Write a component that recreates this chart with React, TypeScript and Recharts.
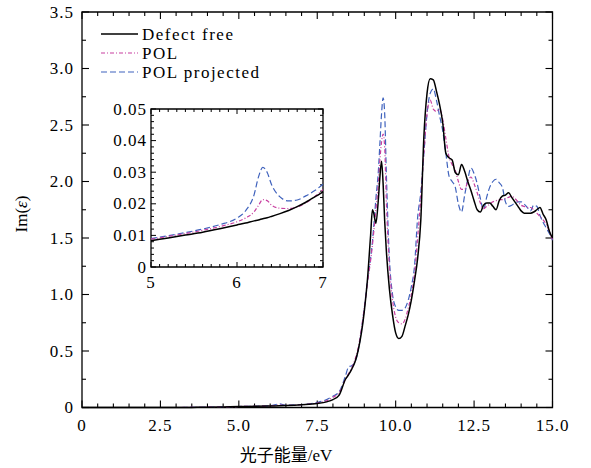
import { LineChart, Line, XAxis, YAxis, ReferenceArea, ReferenceLine, Legend } from "recharts";

// photon energy grid (eV) for the main panel
const MAIN_X = [
  0, 1, 2, 3, 3.5, 4, 4.5, 5, 5.5, 6,
  6.3, 6.5, 7, 7.5, 7.8, 8.0, 8.2, 8.4, 8.5, 8.6,
  8.7, 8.8, 9.0, 9.1, 9.2, 9.26, 9.3, 9.37, 9.45, 9.5,
  9.55, 9.6, 9.65, 9.7, 9.8, 9.9, 10.0, 10.1, 10.2, 10.3,
  10.4, 10.5, 10.6, 10.7, 10.8, 10.9, 11.0, 11.1, 11.2, 11.3,
  11.4, 11.5, 11.6, 11.7, 11.8, 11.9, 12.0, 12.1, 12.2, 12.3,
  12.4, 12.5, 12.6, 12.7, 12.8, 12.9, 13.0, 13.1, 13.2, 13.3,
  13.4, 13.5, 13.6, 13.7, 13.8, 13.9, 14.0, 14.1, 14.2, 14.3,
  14.4, 14.5, 14.6, 14.7, 14.8, 14.9, 15.0,
];

const DEFECT_FREE = [
  0, 0, 0, 0, 0.001, 0.002, 0.004, 0.008, 0.01, 0.013,
  0.015, 0.017, 0.024, 0.035, 0.05, 0.07, 0.11, 0.25, 0.29, 0.34,
  0.4, 0.5, 0.85, 1.13, 1.52, 1.75, 1.72, 1.63, 1.85, 2.05,
  2.18, 1.98, 1.65, 1.4, 1.05, 0.82, 0.66, 0.61, 0.63, 0.72,
  0.82, 0.95, 1.12, 1.32, 1.65, 2.4, 2.78, 2.91, 2.9, 2.8,
  2.68, 2.52, 2.25, 2.21, 2.19, 2.08, 2.06, 2.15, 2.09, 2.0,
  1.92, 1.83, 1.75, 1.73, 1.79, 1.81, 1.81, 1.78, 1.75, 1.83,
  1.87, 1.88, 1.9, 1.86, 1.82, 1.78, 1.74, 1.72, 1.72, 1.72,
  1.73, 1.75, 1.77, 1.71, 1.66, 1.56, 1.5,
];

const POL = [
  0, 0, 0, 0, 0.001, 0.003, 0.005, 0.009, 0.0105, 0.0145,
  0.021, 0.0185, 0.0245, 0.04, 0.06, 0.09, 0.13, 0.25, 0.3, 0.35,
  0.42, 0.52, 0.88, 1.1, 1.3, 1.44, 1.55, 1.75, 2.0, 2.2,
  2.35, 2.42, 2.3, 1.85, 1.25, 0.95, 0.8, 0.75, 0.74, 0.78,
  0.88, 1.0, 1.18, 1.5, 1.85, 2.25, 2.6, 2.72, 2.64, 2.62,
  2.64, 2.55, 2.38, 2.22, 2.15, 2.1, 2.0, 1.93, 1.93, 2.0,
  2.04, 1.98, 1.9, 1.81, 1.76, 1.78, 1.8, 1.82, 1.83, 1.84,
  1.84, 1.85, 1.86, 1.87, 1.85, 1.82, 1.79, 1.78, 1.77, 1.77,
  1.75, 1.72, 1.69, 1.66, 1.62, 1.56, 1.48,
];

const POL_PROJECTED = [
  0, 0, 0, 0, 0.001, 0.003, 0.005, 0.009, 0.011, 0.0155,
  0.0315, 0.022, 0.026, 0.045, 0.07, 0.1, 0.14, 0.28, 0.36, 0.37,
  0.4, 0.5, 0.88, 1.12, 1.32, 1.47, 1.6, 1.85, 2.1, 2.35,
  2.6, 2.74, 2.6, 2.1, 1.32, 1.0, 0.89, 0.86, 0.86, 0.88,
  0.95, 1.07, 1.25, 1.68, 1.9, 2.25, 2.6, 2.78, 2.82, 2.72,
  2.58, 2.45, 2.25, 2.05, 2.0, 1.95, 1.8, 1.73, 1.88, 2.02,
  2.12, 2.07, 1.98, 1.85, 1.75, 1.86, 1.95, 2.0, 2.02, 1.99,
  1.95, 1.82, 1.78, 1.79, 1.81, 1.82, 1.82, 1.8, 1.77, 1.74,
  1.79, 1.78, 1.7, 1.64, 1.59, 1.54, 1.48,
];

// inset: 5 - 7 eV zoom
const INSET_X = [5, 5.2, 5.4, 5.6, 5.8, 6.0, 6.1, 6.2, 6.25, 6.3, 6.35, 6.4, 6.5, 6.6, 6.7, 6.8, 6.9, 7.0];
const INSET_DEFECT_FREE = [
  0.0083, 0.0092, 0.0101, 0.011, 0.0121, 0.0133, 0.0139, 0.0146, 0.0149,
  0.0153, 0.0156, 0.016, 0.0169, 0.0179, 0.0191, 0.0205, 0.0221, 0.0238,
];
const INSET_POL = [
  0.0088, 0.0097, 0.0106, 0.0116, 0.0128, 0.0143, 0.0155, 0.0175, 0.0195,
  0.0213, 0.021, 0.0196, 0.0186, 0.0185, 0.019, 0.0203, 0.0222, 0.0245,
];
const INSET_POL_PROJECTED = [
  0.009, 0.0099, 0.0109, 0.012, 0.0134, 0.0155, 0.0178, 0.023, 0.0285,
  0.0315, 0.03, 0.0262, 0.0222, 0.0209, 0.0212, 0.0225, 0.0241, 0.0262,
];

const X_MAJOR = [0, 2.5, 5, 7.5, 10, 12.5, 15];
const X_LABELS = ["0", "2.5", "5.0", "7.5", "10.0", "12.5", "15.0"];
const Y_MAJOR = [0, 0.5, 1, 1.5, 2, 2.5, 3, 3.5];
const Y_LABELS = ["0", "0.5", "1.0", "1.5", "2.0", "2.5", "3.0", "3.5"];
const INSET_X_MAJOR = [5, 6, 7];
const INSET_X_LABELS = ["5", "6", "7"];
const INSET_Y_MAJOR = [0, 0.01, 0.02, 0.03, 0.04, 0.05];
const INSET_Y_LABELS = ["0", "0.01", "0.02", "0.03", "0.04", "0.05"];

const SERIES = [
  { key: "defect", name: "Defect free", color: "#000000", dash: undefined, width: 1.5 },
  { key: "pol", name: "POL", color: "#c83fa0", dash: "4 2 1 2", width: 1.2 },
  { key: "proj", name: "POL projected", color: "#3f62bd", dash: "6 3", width: 1.2 },
];

const W = 591;
const H = 468;
const MAIN = { left: 82, top: 12, right: 552.5, bottom: 407.5, xd: [0, 15], yd: [0, 3.5] };
const INSET = { left: 151, top: 109, right: 323, bottom: 267, xd: [5, 7], yd: [0, 0.05] };
const SERIF = '"Liberation Serif", "Noto Sans CJK SC", serif';

const mainData = MAIN_X.map((x, i) => ({
  x,
  defect: DEFECT_FREE[i],
  pol: POL[i],
  proj: POL_PROJECTED[i],
}));

const insetData = INSET_X.map((x, i) => ({
  x,
  defect: INSET_DEFECT_FREE[i],
  pol: INSET_POL[i],
  proj: INSET_POL_PROJECTED[i],
}));

const steps = (from: number, to: number, step: number) =>
  Array.from({ length: Math.round((to - from) / step) + 1 }, (_, i) => +(from + i * step).toFixed(4));

const findMajor = (major: number[], v: number) => major.findIndex((m) => Math.abs(m - v) < 1e-6);

// inward tick marks on all four sides, as reference-line segments (length given in px)
function tickSegments(box: any, xTicks: number[], xMajor: number[], yTicks: number[], yMajor: number[], big: number, small: number) {
  const [x0, x1] = box.xd;
  const [y0, y1] = box.yd;
  const xPerPx = (x1 - x0) / (box.right - box.left);
  const yPerPx = (y1 - y0) / (box.bottom - box.top);
  const segs: any[] = [];
  xTicks.forEach((v) => {
    const d = (findMajor(xMajor, v) >= 0 ? big : small) * yPerPx;
    segs.push([{ x: v, y: y0 }, { x: v, y: y0 + d }]);
    segs.push([{ x: v, y: y1 }, { x: v, y: y1 - d }]);
  });
  yTicks.forEach((v) => {
    const d = (findMajor(yMajor, v) >= 0 ? big : small) * xPerPx;
    segs.push([{ x: x0, y: v }, { x: x0 + d, y: v }]);
    segs.push([{ x: x1, y: v }, { x: x1 - d, y: v }]);
  });
  return segs;
}

const MAIN_XT = steps(0, 15, 0.5);
const MAIN_YT = steps(0, 3.5, 0.25);
const INSET_XT = steps(5, 7, 0.1);
const INSET_YT = steps(0, 0.05, 0.002);

const mainSegs = tickSegments(MAIN, MAIN_XT, X_MAJOR, MAIN_YT, Y_MAJOR, 7, 4);
const insetSegs = tickSegments(INSET, INSET_XT, INSET_X_MAJOR, INSET_YT, INSET_Y_MAJOR, 5, 3);

function renderXLabel(p: any, box: any, major: number[], labels: string[], gap: number) {
  const i = findMajor(major, p.payload.value);
  if (i < 0) return <g />;
  return (
    <text x={p.x} y={box.bottom + gap} textAnchor="middle" dominantBaseline="central"
      fontFamily={SERIF} fontSize={17} letterSpacing={1} fill="#000">
      {labels[i]}
    </text>
  );
}

function renderYLabel(p: any, box: any, major: number[], labels: string[], gap: number) {
  const i = findMajor(major, p.payload.value);
  if (i < 0) return <g />;
  return (
    <text x={box.left - gap} y={p.y} textAnchor="end" dominantBaseline="central"
      fontFamily={SERIF} fontSize={17} letterSpacing={1} fill="#000">
      {labels[i]}
    </text>
  );
}

function LegendBox() {
  return (
    <svg width={170} height={64}>
      {SERIES.map((s, i) => (
        <g key={s.key}>
          <line x1={3} x2={40} y1={12 + i * 19} y2={12 + i * 19} stroke={s.color}
            strokeWidth={s.width} strokeDasharray={s.dash} />
          <text x={44} y={12 + i * 19} dominantBaseline="central" fontFamily={SERIF}
            fontSize={17} letterSpacing={1.5} fill="#000">
            {s.name}
          </text>
        </g>
      ))}
    </svg>
  );
}

export default function App() {
  return (
    <div style={{ position: "absolute", left: 0, top: 0, width: W, height: H, background: "#fff" }}>
      <div style={{ position: "absolute", left: 0, top: 0 }}>
        <LineChart width={W} height={H} data={mainData}
          margin={{ top: MAIN.top, right: W - MAIN.right, bottom: H - MAIN.bottom - 1, left: MAIN.left - 1 }}>
          <XAxis dataKey="x" type="number" domain={[0, 15]} ticks={MAIN_XT} interval={0}
            height={1} tickSize={0} tickMargin={0} axisLine={false}
            tick={(p: any) => renderXLabel(p, MAIN, X_MAJOR, X_LABELS, 18)}
            label={{
              content: () => (
                <text x={286} y={455} textAnchor="middle" dominantBaseline="central"
                  fontFamily={SERIF} fontSize={17} fill="#000">
                  光子能量/eV
                </text>
              ),
            }} />
          <YAxis type="number" domain={[0, 3.5]} ticks={MAIN_YT} interval={0}
            width={1} tickSize={0} tickMargin={0} axisLine={false}
            tick={(p: any) => renderYLabel(p, MAIN, Y_MAJOR, Y_LABELS, 8)}
            label={{
              content: () => (
                <text x={21} y={214} transform="rotate(-90 21 214)" textAnchor="middle"
                  dominantBaseline="central" fontFamily={SERIF} fontSize={17} fill="#000">
                  Im(<tspan fontStyle="italic">ε</tspan>)
                </text>
              ),
            }} />
          <ReferenceArea x1={0} x2={15} y1={0} y2={3.5} fill="none" stroke="#000" strokeWidth={1.3} />
          {mainSegs.map((seg, i) => (
            <ReferenceLine key={"m" + i} segment={seg} stroke="#000" strokeWidth={1.1} ifOverflow="visible" />
          ))}
          {[...SERIES].reverse().map((s) => (
            <Line key={s.key} type="monotone" dataKey={s.key} name={s.name} stroke={s.color}
              strokeWidth={s.width} strokeDasharray={s.dash} dot={false} isAnimationActive={false} />
          ))}
          <Legend layout="vertical" align="center" verticalAlign="middle"
            wrapperStyle={{ left: 98, top: 22, width: 170, height: 64 }}
            content={() => <LegendBox />} />
        </LineChart>
      </div>
      <div style={{ position: "absolute", left: 0, top: 0 }}>
        <LineChart width={W} height={H} data={insetData}
          margin={{ top: INSET.top, right: W - INSET.right, bottom: H - INSET.bottom - 1, left: INSET.left - 1 }}>
          <XAxis dataKey="x" type="number" domain={[5, 7]} ticks={INSET_XT} interval={0}
            height={1} tickSize={0} tickMargin={0} axisLine={false}
            tick={(p: any) => renderXLabel(p, INSET, INSET_X_MAJOR, INSET_X_LABELS, 15)} />
          <YAxis type="number" domain={[0, 0.05]} ticks={INSET_YT} interval={0}
            width={1} tickSize={0} tickMargin={0} axisLine={false}
            tick={(p: any) => renderYLabel(p, INSET, INSET_Y_MAJOR, INSET_Y_LABELS, 4)} />
          <ReferenceArea x1={5} x2={7} y1={0} y2={0.05} fill="none" stroke="#000" strokeWidth={1.3} />
          {insetSegs.map((seg, i) => (
            <ReferenceLine key={"i" + i} segment={seg} stroke="#000" strokeWidth={1} ifOverflow="visible" />
          ))}
          {[...SERIES].reverse().map((s) => (
            <Line key={s.key} type="monotone" dataKey={s.key} name={s.name} stroke={s.color}
              strokeWidth={s.width} strokeDasharray={s.dash} dot={false} isAnimationActive={false} />
          ))}
        </LineChart>
      </div>
    </div>
  );
}
